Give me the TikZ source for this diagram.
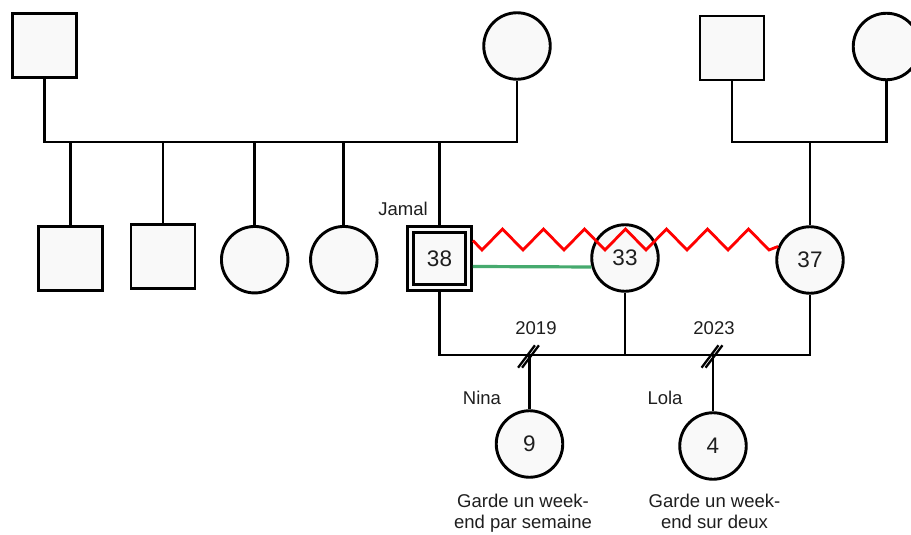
\documentclass[tikz,border=0pt]{standalone}
\usepackage{fontspec}
\setmainfont{Liberation Sans}
\definecolor{shapefill}{RGB}{249,249,249}
\definecolor{linkgreen}{RGB}{70,170,110}
\definecolor{conflictred}{RGB}{255,0,0}
\definecolor{inktext}{RGB}{30,30,30}
\begin{document}
\begin{tikzpicture}[x=1pt,y=-1pt,
  pline/.style={line width=2.8pt},
  male/.style={rectangle, draw, line width=2.9pt, fill=shapefill, minimum size=64pt, inner sep=0pt, text=inktext, font=\fontsize{22.5}{26}\selectfont},
  female/.style={circle, draw, line width=2.9pt, fill=shapefill, minimum size=66.5pt, inner sep=0pt, text=inktext, font=\fontsize{22.5}{26}\selectfont},
  lbl/.style={inner sep=0pt, text=inktext, font=\fontsize{18.5}{21.5}\selectfont, align=center},
  slash/.style={line width=2.3pt},
  zz/.style={line width=2.8pt, conflictred, line join=miter},
  link/.style={line width=3.2pt, linkgreen}]
\clip (0,0) rectangle (911,535);
% grandparents
\node[male] (gf1) at (44.5,45.3) {};
\node[female] (gm1) at (517,46) {};
\node[male] (gf2) at (732,48) {};
\node[female] (gm2) at (886.5,46.5) {};
% siblings
\node[male] (s1) at (70.3,258.7) {};
\node[male] (s2) at (163,256.3) {};
\node[female] (s3) at (254.7,259.7) {};
\node[female] (s4) at (343.8,259.7) {};
\node[male, minimum size=64pt] (jamal) at (439.5,258.5) {};
\node[male, minimum size=52.5pt] (jamalin) at (jamal) {38};
% partners
\node[female] (p33) at (625,258) {33};
\node[female] (p37) at (810,260) {37};
% children
\node[female] (nina) at (529.5,444) {9};
\node[female] (lola) at (713,446) {4};
% helper coordinates
\coordinate (sib) at (0,142);
\coordinate (mar) at (0,355);
\coordinate (c1) at (529.5,355);
\coordinate (c2) at (713,355);
% parents lines
\draw[pline] (gf1.south) |- (sib -| gm1.south) -- (gm1.south);
\foreach \n in {s1,s2,s3,s4,jamal} \draw[pline] (\n.north) -- (\n.north |- sib);
\draw[pline] (gf2.south) |- (sib -| gm2.south) -- (gm2.south);
\draw[pline] (p37.north) -- (p37.north |- sib);
% marriage lines
\draw[pline] (jamal.south) |- (mar -| p37.south) -- (p37.south);
\draw[pline] (p33.south) -- (p33.south |- mar);
\draw[pline] (c1) -- (nina.north);
\draw[pline] (c2) -- (lola.north);
% separation marks
\draw[slash] ([shift={(-3pt,-1.5pt)}]c1) ++(127:14) -- ++(-53:28);
\draw[slash] ([shift={(1pt,-1.5pt)}]c1) ++(127:14) -- ++(-53:28);
\draw[slash] ([shift={(-3pt,-1.5pt)}]c2) ++(127:14) -- ++(-53:28);
\draw[slash] ([shift={(1pt,-1.5pt)}]c2) ++(127:14) -- ++(-53:28);
% relations
\draw[link] ([yshift=-8pt]jamal.east) -- (p33.195);
\draw[zz] ([yshift=18pt]jamal.east) \foreach \k in {0,...,6} { -- (482+41*\k,250) -- (502.5+41*\k,229) } -- (769,250) -- (p37.157);
% labels
\node[lbl] (tjamal) at (403,209) {Jamal};
\node[lbl] (t2019) at (536,328) {2019};
\node[lbl] (t2023) at (714,328) {2023};
\node[lbl] (tnina) at (482,398) {Nina};
\node[lbl] (tlola) at (665,398) {Lola};
\node[lbl, anchor=north] (tgn) at (523,493.5) {Garde un week-\\end par semaine};
\node[lbl, anchor=north] (tgl) at (714.5,493.5) {Garde un week-\\end sur deux};
\end{tikzpicture}
\end{document}
